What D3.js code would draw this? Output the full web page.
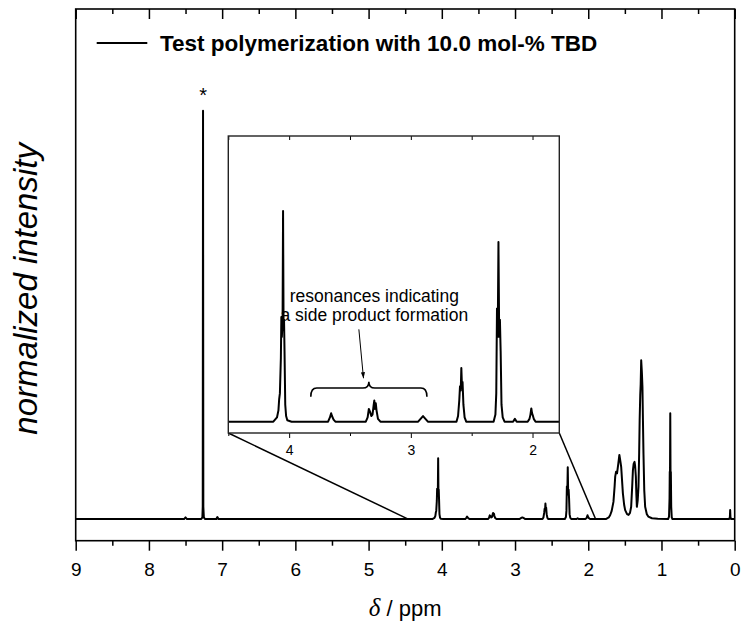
<!DOCTYPE html>
<html>
<head>
<meta charset="utf-8">
<script src="https://cdn.jsdelivr.net/npm/d3@7"></script>
<style>
  html, body { margin: 0; padding: 0; background: #fff; }
  svg { display: block; }
  text { font-family: "Liberation Sans", Arial, sans-serif; fill: #000; }
</style>
</head>
<body>
<svg id="chart" width="743" height="629"></svg>
<script>
// 1H NMR spectrum (CDCl3), chemical shift in ppm and normalized intensity
const ppm = [
  9.00, 7.52, 7.50, 7.48, 7.285, 7.270, 7.265, 7.261, 7.257, 7.250, 7.235,
  7.08, 7.065, 7.05,
  4.13, 4.10, 4.088, 4.082, 4.076, 4.068, 4.064, 4.060, 4.054, 4.050, 4.046, 4.042, 4.038, 4.032, 4.025, 4.015, 3.98,
  3.68, 3.665, 3.655, 3.648, 3.635, 3.62,
  3.37, 3.355, 3.345, 3.335, 3.325, 3.315, 3.305, 3.300, 3.295, 3.288, 3.282, 3.27, 3.25,
  2.94, 2.92, 2.90, 2.88, 2.86,
  2.625, 2.612, 2.602, 2.596, 2.590, 2.585, 2.580, 2.575, 2.568, 2.558, 2.545,
  2.32, 2.305, 2.298, 2.292, 2.286, 2.280, 2.274, 2.268, 2.262, 2.255, 2.245, 2.23,
  2.16, 2.145, 2.13,
  2.04, 2.025, 2.017, 2.010, 2.004, 1.998, 1.99, 1.975,
  1.76, 1.72, 1.70, 1.68, 1.656, 1.640, 1.632, 1.620, 1.607, 1.590, 1.575, 1.560, 1.550, 1.527, 1.510, 1.496, 1.470, 1.450, 1.430,
  1.414, 1.400, 1.390, 1.380, 1.368, 1.360, 1.350, 1.343, 1.336,
  1.325, 1.314, 1.305, 1.298, 1.290, 1.284, 1.277, 1.268, 1.260, 1.253, 1.246, 1.235, 1.223, 1.200, 1.180, 1.130, 1.05,
  0.91, 0.897, 0.890, 0.887, 0.884, 0.880, 0.876, 0.872, 0.867, 0.86, 0.85,
  0.075, 0.066, 0.062, 0.058, 0.05, 0.00
];
const intensity = [
  0, 0, 0.004, 0, 0, 0.004, 0.03, 1.0, 0.03, 0.004, 0,
  0, 0.005, 0,
  0, 0.003, 0.008, 0.016, 0.02, 0.045, 0.074, 0.06, 0.07, 0.149, 0.07, 0.072, 0.05, 0.012, 0.004, 0.001, 0,
  0, 0.003, 0.006, 0.004, 0.0015, 0,
  0, 0.003, 0.009, 0.007, 0.004, 0.005, 0.012, 0.015, 0.009, 0.013, 0.008, 0.002, 0,
  0, 0.002, 0.004, 0.002, 0,
  0, 0.004, 0.015, 0.025, 0.022, 0.038, 0.025, 0.028, 0.012, 0.003, 0,
  0, 0.005, 0.02, 0.08, 0.06, 0.127, 0.06, 0.072, 0.05, 0.012, 0.003, 0,
  0, 0.002, 0,
  0, 0.002, 0.005, 0.0094, 0.006, 0.0045, 0.002, 0,
  0, 0.004, 0.010, 0.020, 0.042, 0.08, 0.104, 0.116, 0.112, 0.135, 0.157, 0.14, 0.127, 0.063, 0.035, 0.022, 0.012, 0.010, 0.015,
  0.03, 0.08, 0.12, 0.135, 0.14, 0.13, 0.104, 0.06, 0.03,
  0.045, 0.079, 0.16, 0.242, 0.304, 0.33, 0.389, 0.36, 0.324, 0.24, 0.161, 0.07, 0.030, 0.012, 0.006, 0.002, 0.001,
  0, 0.006, 0.05, 0.116, 0.09, 0.259, 0.10, 0.115, 0.03, 0.004, 0,
  0, 0.005, 0.022, 0.005, 0, 0
];

const xTicksMajor = [9, 8, 7, 6, 5, 4, 3, 2, 1, 0];
const xTicksMinor = [8.5, 7.5, 6.5, 5.5, 4.5, 3.5, 2.5, 1.5, 0.5];
const insetTicksMajor = [4, 3, 2];
const insetTicksMinor = [4.5, 3.5, 2.5];
const insetRange = [4.5, 1.78];
const connectorPpm = [4.46, 1.9];

const legendLabel = "Test polymerization with 10.0 mol-% TBD";
const annotationLines = ["resonances indicating", "a side product formation"];
const solventPeak = { ppm: 7.261, value: 1.0, mark: "*" };
const sideProductSpan = [3.822, 2.868];

const spectrum = ppm.map((p, i) => ({ p, v: intensity[i] }));

const svg = d3.select("#chart");

// main plot area
const M = { left: 75.7, right: 734.7, top: 9, bottom: 540.7 };
const x = d3.scaleLinear().domain([9, 0]).range([M.left, M.right]);
const y = d3.scaleLinear().domain([-0.053, 1.249]).range([M.bottom, M.top]);

const line = d3.line().x(d => x(d.p)).y(d => y(d.v));

svg.append("path")
  .datum(spectrum)
  .attr("d", line)
  .attr("fill", "none")
  .attr("stroke", "#000")
  .attr("stroke-width", 2)
  .attr("stroke-linejoin", "round");

// bottom axis: ticks outward
const bottomMajor = svg.append("g")
  .attr("transform", `translate(0,${M.bottom})`)
  .call(d3.axisBottom(x).tickValues(xTicksMajor).tickSize(10).tickSizeOuter(0)
    .tickPadding(12).tickFormat(d3.format("d")));
bottomMajor.select(".domain").remove();
bottomMajor.selectAll("text").attr("font-size", 19).attr("font-family", "Liberation Sans, Arial, sans-serif");
bottomMajor.selectAll("line").attr("stroke-width", 1.5);

const bottomMinor = svg.append("g")
  .attr("transform", `translate(0,${M.bottom})`)
  .call(d3.axisBottom(x).tickValues(xTicksMinor).tickSize(5).tickSizeOuter(0).tickFormat(""));
bottomMinor.select(".domain").remove();
bottomMinor.selectAll("line").attr("stroke-width", 1.5);

// top axis: ticks inward
const topMajor = svg.append("g")
  .attr("transform", `translate(0,${M.top})`)
  .call(d3.axisBottom(x).tickValues(xTicksMajor).tickSize(10).tickSizeOuter(0).tickFormat(""));
topMajor.select(".domain").remove();
topMajor.selectAll("line").attr("stroke-width", 1.5);
const topMinor = svg.append("g")
  .attr("transform", `translate(0,${M.top})`)
  .call(d3.axisBottom(x).tickValues(xTicksMinor).tickSize(5).tickSizeOuter(0).tickFormat(""));
topMinor.select(".domain").remove();
topMinor.selectAll("line").attr("stroke-width", 1.5);

// frame
svg.append("rect")
  .attr("x", M.left).attr("y", M.top)
  .attr("width", M.right - M.left).attr("height", M.bottom - M.top)
  .attr("fill", "none").attr("stroke", "#000").attr("stroke-width", 1.6);

// solvent marker
svg.append("text")
  .attr("x", x(solventPeak.ppm)).attr("y", y(solventPeak.value) - 9)
  .attr("text-anchor", "middle").attr("font-size", 20)
  .text(solventPeak.mark);

// legend
svg.append("line")
  .attr("x1", 96.7).attr("x2", 147.3).attr("y1", 43).attr("y2", 43)
  .attr("stroke", "#000").attr("stroke-width", 2);
svg.append("text")
  .attr("x", 160).attr("y", 50.5)
  .attr("font-size", 22.5).attr("font-weight", "bold")
  .text(legendLabel);

// axis titles
svg.append("text")
  .attr("transform", `translate(37,${(M.top + M.bottom) / 2 + 14}) rotate(-90)`)
  .attr("text-anchor", "middle")
  .attr("font-size", 33).attr("font-style", "italic")
  .text("normalized intensity");

const xt = svg.append("text")
  .attr("x", (M.left + M.right) / 2).attr("y", 616)
  .attr("text-anchor", "middle")
  .attr("font-size", 22);
xt.append("tspan").attr("font-family", "Liberation Serif, Times New Roman, serif")
  .attr("font-style", "italic").attr("font-size", 25).text("δ");
xt.append("tspan").text(" / ppm");

// inset
const I = { left: 228.3, right: 559.3, top: 136, bottom: 433 };
const xi = d3.scaleLinear().domain(insetRange).range([I.left, I.right]);
const yi = d3.scaleLinear().domain([-0.008, 0.202]).range([I.bottom, I.top]);

// connectors from the inset corners down to the zoomed region on the baseline
svg.append("line")
  .attr("x1", I.left).attr("y1", I.bottom)
  .attr("x2", x(connectorPpm[0])).attr("y2", y(0))
  .attr("stroke", "#000").attr("stroke-width", 1.5);
svg.append("line")
  .attr("x1", I.right).attr("y1", I.bottom)
  .attr("x2", x(connectorPpm[1])).attr("y2", y(0))
  .attr("stroke", "#000").attr("stroke-width", 1.5);

svg.append("rect")
  .attr("x", I.left).attr("y", I.top)
  .attr("width", I.right - I.left).attr("height", I.bottom - I.top)
  .attr("fill", "#fff");

svg.append("clipPath").attr("id", "insetClip")
  .append("rect")
  .attr("x", I.left).attr("y", I.top)
  .attr("width", I.right - I.left).attr("height", I.bottom - I.top);

const insetLine = d3.line().x(d => xi(d.p)).y(d => yi(d.v));
svg.append("path")
  .datum(spectrum)
  .attr("clip-path", "url(#insetClip)")
  .attr("d", insetLine)
  .attr("fill", "none")
  .attr("stroke", "#000")
  .attr("stroke-width", 2)
  .attr("stroke-linejoin", "round");

const ib = svg.append("g")
  .attr("transform", `translate(0,${I.bottom})`)
  .call(d3.axisBottom(xi).tickValues(insetTicksMajor).tickSize(5).tickSizeOuter(0)
    .tickPadding(7).tickFormat(d3.format("d")));
ib.select(".domain").remove();
ib.selectAll("text").attr("font-size", 14).attr("font-family", "Liberation Sans, Arial, sans-serif");
const ibm = svg.append("g")
  .attr("transform", `translate(0,${I.bottom})`)
  .call(d3.axisBottom(xi).tickValues(insetTicksMinor).tickSize(3).tickSizeOuter(0).tickFormat(""));
ibm.select(".domain").remove();
const it = svg.append("g")
  .attr("transform", `translate(0,${I.top})`)
  .call(d3.axisBottom(xi).tickValues(insetTicksMajor.concat(insetTicksMinor)).tickSize(4).tickSizeOuter(0).tickFormat(""));
it.select(".domain").remove();

svg.append("rect")
  .attr("x", I.left).attr("y", I.top)
  .attr("width", I.right - I.left).attr("height", I.bottom - I.top)
  .attr("fill", "none").attr("stroke", "#222").attr("stroke-width", 1.4);

// annotation: curly brace over the side-product resonances
const bL = xi(sideProductSpan[0]), bR = xi(sideProductSpan[1]);
const bM = (bL + bR) / 2;
const yEnd = yi(0.0177), yMid = yi(0.0238), yTip = yi(0.0283);
const r = 6;
const brace = d3.path();
brace.moveTo(bL, yEnd);
brace.quadraticCurveTo(bL, yMid, bL + r, yMid);
brace.lineTo(bM - r, yMid);
brace.quadraticCurveTo(bM, yMid, bM, yTip);
brace.quadraticCurveTo(bM, yMid, bM + r, yMid);
brace.lineTo(bR - r, yMid);
brace.quadraticCurveTo(bR, yMid, bR, yEnd);
svg.append("path").attr("d", brace.toString())
  .attr("fill", "none").attr("stroke", "#000").attr("stroke-width", 1.6);

// arrow pointing at the brace tip
svg.append("defs").append("marker")
  .attr("id", "arrowHead").attr("viewBox", "0 0 10 10")
  .attr("refX", 10).attr("refY", 5)
  .attr("markerWidth", 6).attr("markerHeight", 6)
  .attr("orient", "auto")
  .append("path").attr("d", "M0,1.5 L10,5 L0,8.5 Z").attr("fill", "#000");
svg.append("line")
  .attr("x1", xi(3.427)).attr("y1", yi(0.0653))
  .attr("x2", xi(3.389)).attr("y2", yi(0.0307))
  .attr("stroke", "#000").attr("stroke-width", 1)
  .attr("marker-end", "url(#arrowHead)");

const ann = svg.append("text")
  .attr("font-size", 17.5)
  .attr("text-anchor", "middle");
annotationLines.forEach((t, i) => {
  ann.append("tspan")
    .attr("x", xi(3.30))
    .attr("y", yi(0.0849) + i * 19.5)
    .text(t);
});
</script>
</body>
</html>
